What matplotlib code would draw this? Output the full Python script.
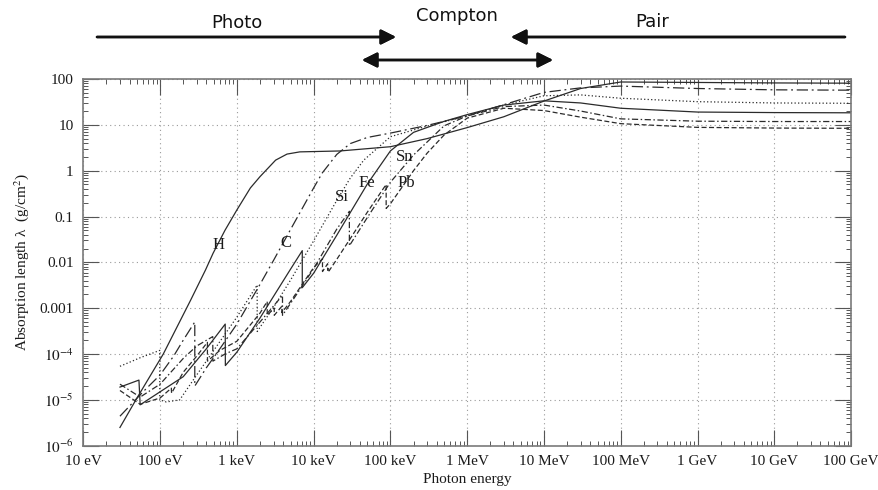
import matplotlib
matplotlib.use('Agg')
import matplotlib.pyplot as plt
from matplotlib.ticker import FixedLocator, LogLocator, NullFormatter

plt.rcParams['font.family'] = ['Liberation Serif', 'DejaVu Serif']
plt.rcParams['mathtext.fontset'] = 'stix'

# ---------------- data (photon energy in eV, absorption length in g/cm^2) -------------
H_E = [30, 50, 110, 250, 390, 490, 700, 1e3, 1.5e3, 2e3, 3.2e3, 4.5e3, 6.6e3, 2.2e4,
       1e5, 3e5, 1e6, 3e6, 1e7, 3e7, 1e8, 1e9, 1e10, 1e11]
H_L = [2.5e-6, 1.1e-5, 1.0e-4, 1.5e-3, 6.8e-3, 0.0158, 0.05, 0.139, 0.42, 0.74, 1.7, 2.3,
       2.57, 2.69, 3.33, 5.0, 8.7, 15, 33, 62, 86, 84, 82, 81]

C_E = [30, 60, 100, 150, 200, 283, 283, 400, 600, 1e3, 2e3, 3e3, 5e3, 1e4, 1.3e4, 2e4,
       3e4, 5e4, 1e5, 3e5, 1e6, 3e6, 1e7, 3e7, 1e8, 1e9, 1e10, 1e11]
C_L = [4.4e-6, 1.5e-5, 3.5e-5, 9e-5, 2e-4, 5e-4, 2e-5, 5e-5, 1.3e-4, 4.5e-4, 3.3e-3, 0.011,
       0.052, 0.42, 0.9, 2.26, 3.9, 5.3, 6.6, 9.7, 15.7, 27.5, 51, 64, 70, 62, 58, 57]

Si_E = [30, 55, 99, 99, 120, 180, 300, 500, 1e3, 1839, 1839, 3e3, 5e3, 1e4, 2e4, 3e4,
        4.5e4, 1e5, 3e5, 1e6, 3e6, 1e7, 3e7, 1e8, 1e9, 1e10, 1e11]
Si_L = [5.4e-5, 8.3e-5, 1.2e-4, 1.0e-5, 9e-6, 1.0e-5, 3.5e-5, 1.2e-4, 6.4e-4, 3.2e-3, 3.1e-4,
        1.04e-3, 4.1e-3, 0.0295, 0.224, 0.69, 1.7, 5.5, 9.4, 15.7, 27, 43, 45, 38, 32, 30, 29.5]

Fe_E = [30, 53, 55, 100, 200, 400, 705, 708, 1e3, 2e3, 5e3, 7110, 7110, 1e4, 2e4, 3e4, 5e4,
        1e5, 2e5, 5e5, 1e6, 3e6, 1e7, 3e7, 1e8, 1e9, 1e10, 1e11]
Fe_L = [1.9e-5, 2.7e-5, 7.8e-6, 1.5e-5, 3.2e-5, 1.3e-4, 4.5e-4, 5.6e-5, 1.1e-4, 6.1e-4,
        7.1e-3, 0.018, 2.8e-3, 5.8e-3, 0.039, 0.122, 0.51, 2.7, 6.85, 11.9, 16.7, 27, 33.4,
        30, 23, 19, 18.5, 18.3]

Sn_E = [30, 55, 100, 200, 300, 485, 487, 700, 1e3, 2e3, 3929, 3931, 6e3, 1e4, 2e4, 29200,
        29210, 5e4, 1e5, 2e5, 5e5, 1e6, 3e6, 1e7, 3e7, 1e8, 1e9, 1e10, 1e11]
Sn_L = [2.2e-5, 1.15e-5, 2.2e-5, 8e-5, 1.5e-4, 2.4e-4, 7e-5, 1.0e-4, 1.3e-4, 5e-4, 1.9e-3,
        7e-4, 2.0e-3, 7.3e-3, 0.053, 0.13, 0.023, 0.095, 0.56, 2.2, 9.5, 15.6, 25, 27, 20,
        13.5, 12, 11.8, 11.8]

Pb_E = [30, 55, 100, 140, 141, 200, 300, 413, 414, 600, 1e3, 2e3, 2484, 2485, 3066, 3067,
        3851, 3852, 5e3, 1e4, 13035, 13036, 15200, 15201, 15860, 15861, 2e4, 3e4, 5e4,
        88000, 88010, 1e5, 1.5e5, 2e5, 3e5, 5e5, 1e6, 3e6, 1e7, 3e7, 1e8, 1e9, 1e10, 1e11]
Pb_L = [1.6e-5, 8e-6, 1.1e-5, 1.8e-5, 1.4e-5, 4e-5, 9e-5, 1.8e-4, 7e-5, 1.2e-4, 1.9e-4,
        7.8e-4, 1.4e-3, 7e-4, 1.0e-3, 7e-4, 1.1e-3, 8e-4, 1.4e-3, 7.7e-3, 0.012, 0.0063,
        0.0093, 0.0067, 0.0075, 0.0065, 0.0116, 0.033, 0.124, 0.5, 0.15, 0.19, 0.5, 1.0,
        2.4, 6.0, 14, 23, 20.5, 14.7, 10.6, 8.8, 8.5, 8.4]

element_names = ['H', 'C', 'Si', 'Fe', 'Sn', 'Pb']

x_ticks = [10, 1e2, 1e3, 1e4, 1e5, 1e6, 1e7, 1e8, 1e9, 1e10, 1e11]
x_tick_labels = ['10 eV', '100 eV', '1 keV', '10 keV', '100 keV', '1 MeV', '10 MeV',
                 '100 MeV', '1 GeV', '10 GeV', '100 GeV']
y_ticks = [1e-6, 1e-5, 1e-4, 1e-3, 1e-2, 1e-1, 1, 10, 100]
y_tick_labels = ['$10^{-6}$', '$10^{-5}$', '$10^{-4}$', '0.001', '0.01', '0.1', '1', '10', '100']

# ---------------- figure ----------------
fig = plt.figure(figsize=(8.79, 4.90), dpi=100)
ax = fig.add_axes([0.0948, 0.0904, 0.8734, 0.7484])
ax.set_xscale('log')
ax.set_yscale('log')
ax.set_xlim(10, 1e11)
ax.set_ylim(1e-6, 100)

lc = '#2b2b2b'
lw = 0.9
styles = {
    'H': '-',
    'C': (0, (9, 3, 1.5, 3)),
    'Si': (0, (1, 1.8)),
    'Fe': '-',
    'Sn': (0, (5, 2, 1.2, 2)),
    'Pb': (0, (4, 2)),
}
series = {'H': (H_E, H_L), 'C': (C_E, C_L), 'Si': (Si_E, Si_L),
          'Fe': (Fe_E, Fe_L), 'Sn': (Sn_E, Sn_L), 'Pb': (Pb_E, Pb_L)}
for name in element_names:
    e, l = series[name]
    ax.plot(e, l, color=lc, lw=lw, ls=styles[name])

# element labels
label_pos = {'H': (570, 0.024), 'C': (4300, 0.026), 'Si': (23400, 0.27),
             'Fe': (50000, 0.54), 'Sn': (151000, 2.0), 'Pb': (163000, 0.54)}
for name in element_names:
    ax.text(*label_pos[name], name, fontsize=12, color='#1a1a1a',
            ha='center', va='center')

# ticks
ax.xaxis.set_major_locator(FixedLocator(x_ticks))
ax.set_xticklabels(x_tick_labels)
ax.yaxis.set_major_locator(FixedLocator(y_ticks))
ax.set_yticklabels(y_tick_labels)
ax.xaxis.set_minor_locator(LogLocator(base=10, subs=range(2, 10), numticks=100))
ax.yaxis.set_minor_locator(LogLocator(base=10, subs=range(2, 10), numticks=100))
ax.xaxis.set_minor_formatter(NullFormatter())
ax.yaxis.set_minor_formatter(NullFormatter())
ax.tick_params(which='major', direction='in', length=11.5, width=0.8, color='#555555',
               top=True, right=True, labelsize=11, labelcolor='#1a1a1a', pad=7)
ax.tick_params(which='minor', direction='in', length=3.8, width=0.7, color='#555555',
               top=True, right=True)

ax.grid(True, which='major', ls=(0, (1, 3)), color='#9a9a9a', lw=0.8)
for s in ax.spines.values():
    s.set_color('#7a7a7a')
    s.set_linewidth(1.2)

ax.set_xlabel('Photon energy', fontsize=11, color='#1a1a1a', labelpad=3)
ax.set_ylabel('Absorption length λ  (g/cm$^2$)', fontsize=11, color='#1a1a1a', labelpad=6)

# ---------------- top annotations ----------------
W, Hh = 879.0, 490.0
def fx(px):
    return px / W
def fy(py):
    return 1 - py / Hh

tfont = dict(family='DejaVu Sans', fontsize=13, color='#111111', ha='center', va='center')
fig.text(fx(237), fy(23), 'Photo', **tfont)
fig.text(fx(457), fy(16), 'Compton', **tfont)
fig.text(fx(652), fy(22), 'Pair', **tfont)

ap = dict(arrowstyle='-|>,head_length=0.9,head_width=0.45', color='#111111', lw=1.8,
          shrinkA=0, shrinkB=0)
fig.add_artist(plt.annotate('', xy=(fx(396), fy(37)), xytext=(fx(97), fy(37)),
                            xycoords='figure fraction', textcoords='figure fraction',
                            arrowprops=ap))
fig.add_artist(plt.annotate('', xy=(fx(511), fy(37)), xytext=(fx(845), fy(37)),
                            xycoords='figure fraction', textcoords='figure fraction',
                            arrowprops=ap))
ap2 = dict(arrowstyle='<|-|>,head_length=0.9,head_width=0.45', color='#111111', lw=1.8,
           shrinkA=0, shrinkB=0)
fig.add_artist(plt.annotate('', xy=(fx(553), fy(60)), xytext=(fx(362), fy(60)),
                            xycoords='figure fraction', textcoords='figure fraction',
                            arrowprops=ap2))

fig.savefig('out.png', dpi=100)
